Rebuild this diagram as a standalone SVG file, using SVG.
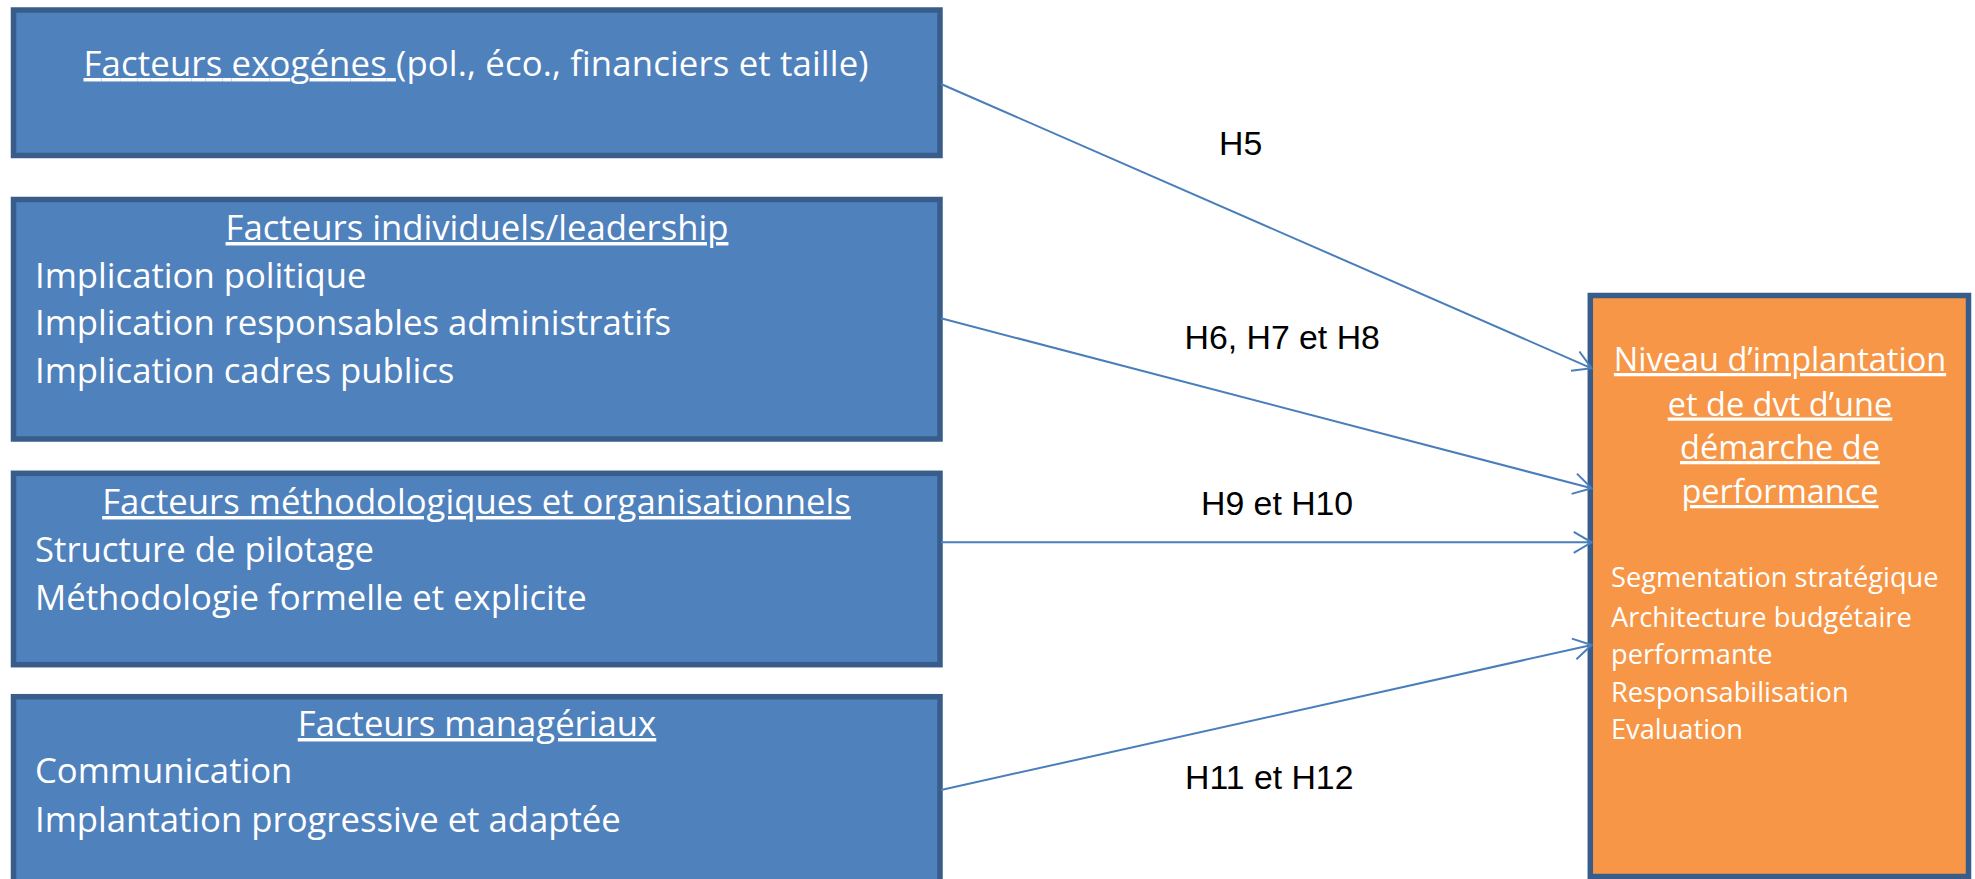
<svg xmlns="http://www.w3.org/2000/svg" width="1975" height="879" viewBox="0 0 1975 879">
<defs>
<style>
.blue{fill:#4F81BD;stroke:#385D8A;stroke-width:5.5}
.orange{fill:#F79646;stroke:#385D8A;stroke-width:5.5}
.t{font-family:"Open Sans","Liberation Sans",sans-serif;fill:#FFFFFF;font-size:34.7px}
.hd{text-anchor:middle;font-size:34.7px}
.u{text-decoration:underline}
.ot{font-family:"Open Sans","Liberation Sans",sans-serif;fill:#FFFFFF;font-size:32.5px;text-anchor:middle;text-decoration:underline}
.ol{font-family:"Open Sans","Liberation Sans",sans-serif;fill:#FFFFFF;font-size:27.2px}
.lbl{font-family:"Liberation Sans",Arial,sans-serif;fill:#000000;font-size:33.8px}
.conn{stroke:#4A7EBB;stroke-width:2;fill:none;marker-end:url(#arr)}
</style>
<marker id="arr" markerUnits="userSpaceOnUse" markerWidth="30" markerHeight="30" viewBox="-25 -15 30 30" refX="0" refY="0" orient="auto">
<path d="M-18,-10.5 L0,0 L-18,10.5" fill="none" stroke="#4A7EBB" stroke-width="2"/>
</marker>
</defs>

<g id="node-exogenes">
<rect class="blue" x="13.5" y="10" width="926.5" height="145.5"/>
<text class="t hd" x="476" y="76" textLength="785"><tspan class="u">Facteurs exogénes </tspan>(pol., éco., financiers et taille)</text>
</g>

<g id="node-individuels">
<rect class="blue" x="13.5" y="199.5" width="926.5" height="239.5"/>
<text class="t hd u" x="477" y="240">Facteurs individuels/leadership</text>
<text class="t" x="35" y="287.5">Implication politique</text>
<text class="t" x="35" y="335">Implication responsables administratifs</text>
<text class="t" x="35" y="383.3">Implication cadres publics</text>
</g>

<g id="node-methodologiques">
<rect class="blue" x="13.5" y="473.3" width="926.5" height="191.4"/>
<text class="t hd u" x="476.5" y="514">Facteurs méthodologiques et organisationnels</text>
<text class="t" x="35" y="561.7">Structure de pilotage</text>
<text class="t" x="35" y="610">Méthodologie formelle et explicite</text>
</g>

<g id="node-manageriaux">
<rect class="blue" x="13.5" y="696.7" width="926.5" height="250"/>
<text class="t hd u" x="477" y="736">Facteurs managériaux</text>
<text class="t" x="35" y="783.3">Communication</text>
<text class="t" x="35" y="831.7">Implantation progressive et adaptée</text>
</g>

<g id="node-niveau">
<rect class="orange" x="1590.3" y="295.5" width="378.2" height="581"/>
<text class="ot" x="1780" y="371">Niveau d’implantation</text>
<text class="ot" x="1780" y="415.5">et de dvt d’une</text>
<text class="ot" x="1780" y="459">démarche de</text>
<text class="ot" x="1780" y="503">performance</text>
<text class="ol" x="1611" y="586.7">Segmentation stratégique</text>
<text class="ol" x="1611" y="627.3">Architecture budgétaire</text>
<text class="ol" x="1611" y="664">performante</text>
<text class="ol" x="1611" y="701.7">Responsabilisation</text>
<text class="ol" x="1611" y="739">Evaluation</text>
</g>

<g id="connectors">
<line class="conn" x1="941" y1="84" x2="1591.7" y2="368.3"/>
<line class="conn" x1="941" y1="318.3" x2="1591.7" y2="488.3"/>
<line class="conn" x1="941" y1="542.3" x2="1591.7" y2="542.3"/>
<line class="conn" x1="941" y1="790" x2="1591.7" y2="645"/>
<text class="lbl" x="1219" y="155">H5</text>
<text class="lbl" x="1184.5" y="349.3">H6, H7 et H8</text>
<text class="lbl" x="1201" y="515">H9 et H10</text>
<text class="lbl" x="1185" y="789.3">H11 et H12</text>
</g>
</svg>
